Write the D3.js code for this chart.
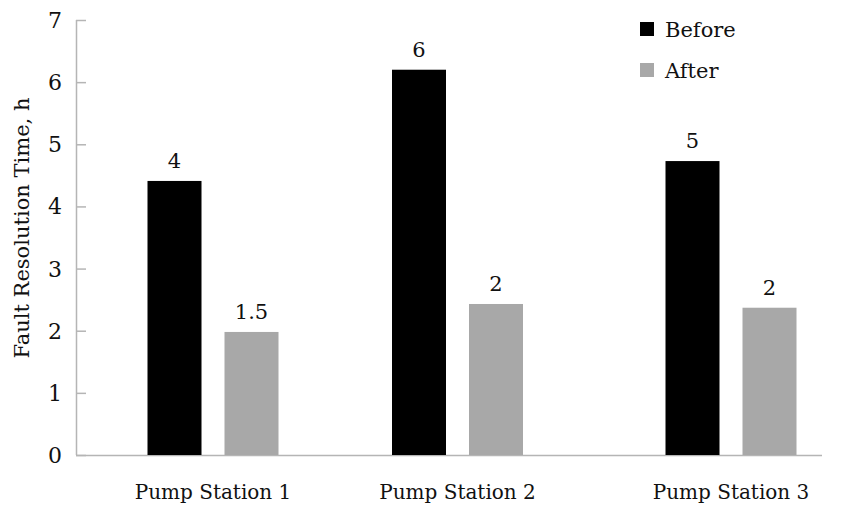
<!DOCTYPE html>
<html><head><meta charset="utf-8">
<script src="https://cdn.jsdelivr.net/npm/d3@7"></script>
<style>body{margin:0;background:#fff;} text{font-family:"DejaVu Serif",serif;fill:#111;}</style>
</head><body>
<svg id="chart" width="841" height="505"></svg>
<script>
const categories = ["Pump Station 1", "Pump Station 2", "Pump Station 3"];
const seriesNames = ["Before", "After"];
const beforeValues = [4.41, 6.2, 4.73];
const afterValues = [1.98, 2.43, 2.37];
const beforeLabels = ["4", "6", "5"];
const afterLabels = ["1.5", "2", "2"];
const yTicks = [0, 1, 2, 3, 4, 5, 6, 7];

const colors = {Before: "#000000", After: "#a8a8a8"};
const svg = d3.select("#chart");
const y = d3.scaleLinear().domain([0, 7]).range([455, 20]);
// group centres (uneven spacing in reference)
const xc = d3.scaleOrdinal().domain(categories).range([213, 457.5, 731]);
const barW = 54, gap = 23;
const xs = d3.scaleOrdinal().domain(seriesNames).range([-(gap/2 + barW), gap/2]);

// axes
const yAxis = d3.axisRight(y).tickValues(yTicks).tickSize(10).tickFormat("");
const ga = svg.append("g").attr("transform", "translate(76,0)").call(yAxis);
ga.selectAll("line,path").attr("stroke", "#b5b5b5").attr("stroke-width", 1.5);
ga.select(".domain").attr("d", `M0.5,${y(7)}V${y(0)}`);
svg.selectAll(".ytl").data(yTicks).enter().append("text")
  .attr("x", 62).attr("y", d => y(d) + 8).attr("text-anchor", "end")
  .attr("font-size", 22).text(d => d);
svg.append("line").attr("x1", 76).attr("x2", 822).attr("y1", y(0)+0.5).attr("y2", y(0)+0.5)
  .attr("stroke", "#b5b5b5").attr("stroke-width", 1.5);

svg.append("text").attr("transform", `translate(29,228) rotate(-90)`)
  .attr("text-anchor", "middle").attr("font-size", 21).text("Fault Resolution Time, h");

const series = [
  {name: "Before", values: beforeValues, labels: beforeLabels},
  {name: "After", values: afterValues, labels: afterLabels}
];
series.forEach(s => {
  const g = svg.append("g");
  g.selectAll("rect").data(categories).enter().append("rect")
    .attr("x", (c) => xc(c) + xs(s.name))
    .attr("y", (c, i) => y(s.values[i]))
    .attr("width", barW)
    .attr("height", (c, i) => y(0) - y(s.values[i]))
    .attr("fill", colors[s.name]);
  g.selectAll("text").data(categories).enter().append("text")
    .attr("x", (c) => xc(c) + xs(s.name) + barW/2)
    .attr("y", (c, i) => y(s.values[i]) - 13)
    .attr("text-anchor", "middle").attr("font-size", 21)
    .text((c, i) => s.labels[i]);
});

svg.selectAll(".xl").data(categories).enter().append("text")
  .attr("x", c => xc(c)).attr("y", 499).attr("text-anchor", "middle")
  .attr("font-size", 20).text(c => c);

// legend
const lg = svg.append("g");
seriesNames.forEach((n, i) => {
  lg.append("rect").attr("x", 640).attr("y", 22 + i*41).attr("width", 14).attr("height", 14).attr("fill", colors[n]);
  lg.append("text").attr("x", 665).attr("y", 37 + i*41).attr("font-size", 21).text(n);
});
</script>
</body></html>
